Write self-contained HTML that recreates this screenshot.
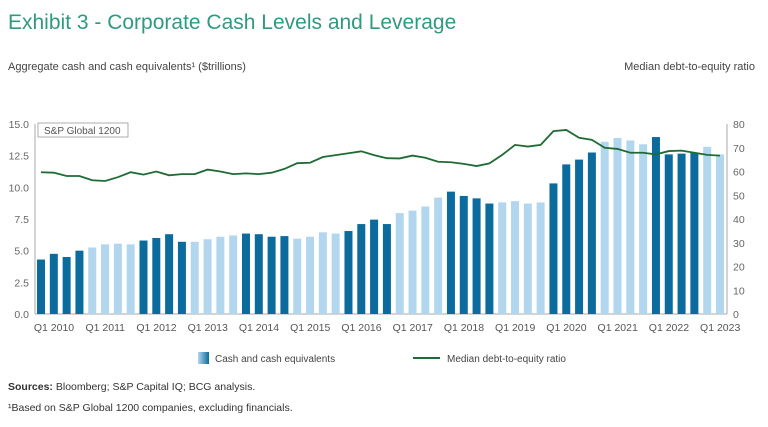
<!DOCTYPE html>
<html><head><meta charset="utf-8"><style>
body{margin:0;background:#fff;width:768px;height:422px;overflow:hidden;font-family:"Liberation Sans",sans-serif;}
svg text{font-family:"Liberation Sans",sans-serif;}
</style></head><body>
<svg id="chart" width="768" height="422">
<text x="8" y="29" font-size="21" fill="#2f9a80">Exhibit 3 - Corporate Cash Levels and Leverage</text>
<text x="8" y="70" font-size="11" fill="#444">Aggregate cash and cash equivalents¹ ($trillions)</text>
<text x="755" y="70" font-size="11" fill="#444" text-anchor="end">Median debt-to-equity ratio</text>
<g id="plot"></g>
<rect x="38" y="123" width="90" height="14" fill="#fff" stroke="#999" stroke-width="0.8"/>
<text x="44" y="134" font-size="10" fill="#555">S&amp;P Global 1200</text>
<defs><linearGradient id="lg" x1="0" x2="1"><stop offset="0" stop-color="#b3d6ef"/><stop offset="1" stop-color="#0b6b9c"/></linearGradient></defs>
<rect x="198" y="352" width="11" height="12" fill="url(#lg)"/>
<text x="215" y="362" font-size="10" fill="#444">Cash and cash equivalents</text>
<line x1="413" y1="358" x2="440" y2="358" stroke="#1f6b35" stroke-width="2"/>
<text x="447" y="362" font-size="10" fill="#444">Median debt-to-equity ratio</text>
<text x="8" y="390" font-size="10.5" fill="#333"><tspan font-weight="bold">Sources:</tspan> Bloomberg; S&amp;P Capital IQ; BCG analysis.</text>
<text x="8" y="411" font-size="10.5" fill="#333">¹Based on S&amp;P Global 1200 companies, excluding financials.</text>
</svg>
<script>
const cash=[4.3,4.75,4.5,5.0,5.25,5.5,5.55,5.5,5.8,6.0,6.3,5.7,5.7,5.9,6.1,6.2,6.35,6.3,6.1,6.15,5.95,6.1,6.45,6.35,6.55,7.1,7.45,7.1,7.97,8.16,8.49,9.19,9.66,9.32,9.13,8.72,8.81,8.91,8.72,8.81,10.31,11.81,12.19,12.75,13.6,13.9,13.7,13.4,13.97,12.6,12.66,12.75,13.2,12.6];
const ratio=[59.7,59.5,58.1,58.1,56.3,56,57.6,59.7,58.7,60,58.4,58.9,58.9,60.8,60,58.9,59.2,58.9,59.5,61.1,63.5,63.7,66.1,66.9,67.7,68.5,66.9,65.6,65.5,66.7,65.8,64.1,63.9,63.2,62.3,63.4,67,71.2,70.5,71.2,77,77.5,74.2,73.3,70,69.5,67.9,67.9,67.2,68.6,68.8,67.9,67,66.7];
const leftTicks=[0,2.5,5,7.5,10,12.5,15];
const rightTicks=[0,10,20,30,40,50,60,70,80];
const xLabels=["Q1 2010","Q1 2011","Q1 2012","Q1 2013","Q1 2014","Q1 2015","Q1 2016","Q1 2017","Q1 2018","Q1 2019","Q1 2020","Q1 2021","Q1 2022","Q1 2023"];
const NS="http://www.w3.org/2000/svg",g=document.getElementById('plot');
const y0=314,y1=124,xl=35,xr=727;
const yL=v=>y0-(v/15)*(y0-y1), yR=v=>y0-(v/80)*(y0-y1);
const xC=i=>41+i*(679/(cash.length-1));
function mk(t,a){const e=document.createElementNS(NS,t);for(const k in a)e.setAttribute(k,a[k]);g.appendChild(e);return e;}
let e=mk('line',{x1:xl,y1:y0,x2:xr,y2:y0,stroke:'#aaa'});


e=mk('line',{x1:xl,y1:y1,x2:xl,y2:y0,stroke:'#aaa'});


e=mk('line',{x1:xr,y1:y1,x2:xr,y2:y0,stroke:'#aaa'});


leftTicks.forEach(v=>{const t=mk('text',{x:29,y:yL(v)+4,'font-size':10.5,fill:'#666','text-anchor':'end'});t.textContent=v.toFixed(1);

});
rightTicks.forEach(v=>{const t=mk('text',{x:733,y:yR(v)+4,'font-size':10.5,fill:'#666'});t.textContent=v;

});
cash.forEach((v,i)=>{const dark=Math.floor(i/4)%2===0;
const r=mk('rect',{x:xC(i)-4,y:yL(v),width:8,height:y0-yL(v),fill:dark?'#0b6b9c':'#b3d6ef'});

});
const p=mk('path',{d:ratio.map((v,i)=>(i?'L':'M')+xC(i)+','+yR(v)).join(''),fill:'none',stroke:'#1f6b35','stroke-width':1.8});


xLabels.forEach((s,k)=>{const t=mk('text',{x:xC(k*4)+13,y:331,'font-size':10.5,fill:'#555','text-anchor':'middle'});t.textContent=s;

});
</script>
</body></html>
